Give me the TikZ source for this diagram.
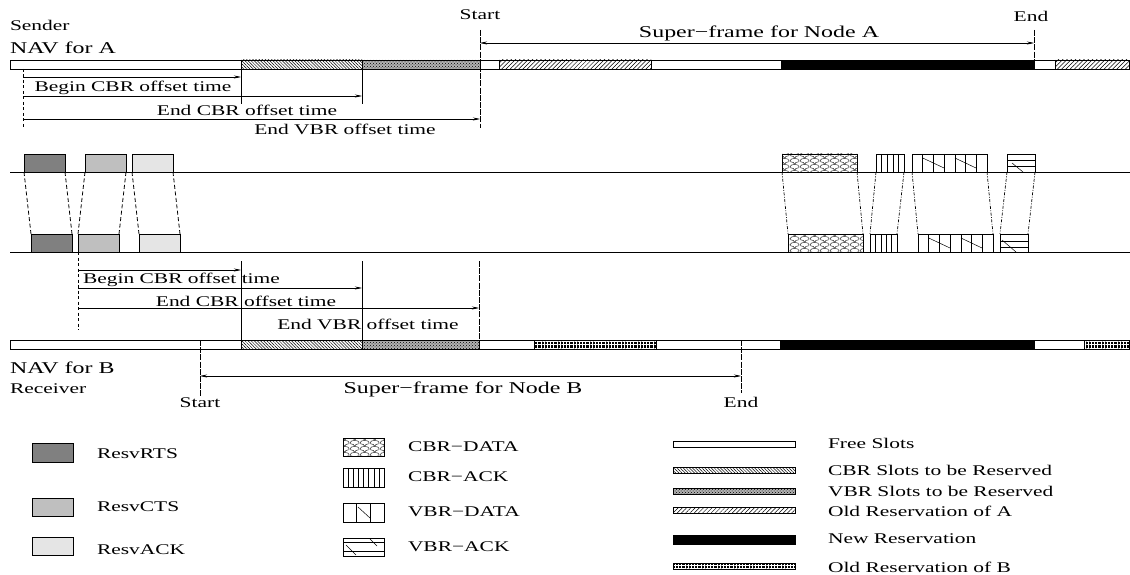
\documentclass[tikz,border=0pt]{standalone}
\usepackage{fontspec}
\setmainfont{Liberation Serif}[FakeStretch=1.45]
\usetikzlibrary{arrows.meta,patterns,patterns.meta,calc}

\pgfdeclarepatternformonly{fishscale}{\pgfpointorigin}{\pgfpoint{10pt}{6pt}}{\pgfpoint{10pt}{6pt}}{%
  \pgfsetlinewidth{0.45pt}%
  \pgfpathmoveto{\pgfpoint{0pt}{0pt}}%
  \pgfpathcurveto{\pgfpoint{0pt}{1.66pt}}{\pgfpoint{2.24pt}{3pt}}{\pgfpoint{5pt}{3pt}}%
  \pgfpathcurveto{\pgfpoint{7.76pt}{3pt}}{\pgfpoint{10pt}{1.66pt}}{\pgfpoint{10pt}{0pt}}%
  \pgfpathmoveto{\pgfpoint{0pt}{6pt}}%
  \pgfpathcurveto{\pgfpoint{2.76pt}{6pt}}{\pgfpoint{5pt}{4.66pt}}{\pgfpoint{5pt}{3pt}}%
  \pgfpathcurveto{\pgfpoint{5pt}{4.66pt}}{\pgfpoint{7.24pt}{6pt}}{\pgfpoint{10pt}{6pt}}%
  \pgfusepath{stroke}%
}

\definecolor{rtsc}{gray}{0.5}
\definecolor{ctsc}{gray}{0.75}
\definecolor{ackc}{gray}{0.9}

\newcommand\colsplit[3]{% node, count, divisor
  \foreach \i in {1,...,#2}{%
    \draw[inner] ($(#1.north west)!\i/#3!(#1.north east)$) -- ($(#1.south west)!\i/#3!(#1.south east)$);}}

\begin{document}
\begin{tikzpicture}[x=1pt,y=-1pt,
  every node/.style={inner sep=0pt,outer sep=0pt},
  lbl/.style={font=\fontsize{14.8}{17}\selectfont},
  big/.style={font=\fontsize{16.5}{19}\selectfont},
  seg/.style={draw,line width=0.7pt},
  free/.style={seg,fill=white},
  cbrslot/.style={seg,pattern={Lines[angle=-45,distance=2.2pt,line width=0.5pt]}},
  vbrslot/.style={seg,preaction={fill=gray!60},pattern=crosshatch dots},
  olda/.style={seg,pattern={Lines[angle=45,distance=3pt,line width=0.5pt]}},
  newres/.style={seg,fill=black},
  oldb/.style={seg,preaction={fill=black},pattern={Hatch[angle=0,distance=3.2pt,line width=0.45pt]},pattern color=white},
  arr/.style={-{Stealth[length=7pt,width=3pt]},line width=0.55pt},
  darr/.style={{Stealth[length=7pt,width=3pt]}-{Stealth[length=7pt,width=3pt]},line width=0.55pt},
  tickline/.style={line width=0.65pt},
  startend/.style={line width=0.65pt,dash pattern=on 6pt off 1.2pt},
  dashv/.style={line width=0.65pt,dash pattern=on 3pt off 2.5pt},
  pkt/.style={draw,line width=0.75pt,anchor=north west,minimum height=18pt},
  inner/.style={line width=0.5pt},
  dd/.style={line width=0.8pt,dash pattern=on 4pt off 2.5pt},
  dashdot/.style={line width=0.7pt,dash pattern=on 3pt off 1.5pt on 0.8pt off 1.5pt},
  medium/.style={line width=0.75pt}
]
\useasboundingbox (0,0) rectangle (1130,575);

% ---------------- NAV for A ----------------
\node[lbl,anchor=west] (sender) at (10,25) {Sender};
\node[big,anchor=west] (navA) at (10,48) {NAV for A};

\draw[free] (10,60) rectangle (241,69);
\draw[cbrslot] (241,60) rectangle (362,69);
\draw[vbrslot] (362,60) rectangle (480,69);
\draw[free] (480,60) rectangle (499,69);
\draw[olda] (499,60) rectangle (651,69);
\draw[free] (651,60) rectangle (781,69);
\draw[newres] (781,60) rectangle (1034,69);
\draw[free] (1034,60) rectangle (1055,69);
\draw[olda] (1055,60) rectangle (1129,69);

\coordinate (Ad1) at (23,69);  \coordinate (Ad2) at (23,128);
\coordinate (Ab1) at (241,69); \coordinate (Ab1e) at (241,104);
\coordinate (Ab2) at (362,69); \coordinate (Ab2e) at (362,104);
\coordinate (AS1) at (480,30); \coordinate (AS2) at (480,128);
\coordinate (AE1) at (1034,30); \coordinate (AE2) at (1034,69);
\draw[dashv] (Ad1) -- (Ad2);
\draw[tickline] (Ab1) -- (Ab1e);
\draw[tickline] (Ab2) -- (Ab2e);
\draw[startend] (AS1) -- (AS2);
\draw[startend] (AE1) -- (AE2);

\coordinate (A1s) at (23,77);  \coordinate (A1e) at (241,77);
\coordinate (A2s) at (23,96);  \coordinate (A2e) at (362,96);
\coordinate (A3s) at (23,119); \coordinate (A3e) at (480,119);
\draw[arr] (A1s) -- (A1e);
\draw[arr] (A2s) -- (A2e);
\draw[arr] (A3s) -- (A3e);
\node[lbl] (tA1) at (133,88) {Begin CBR offset time};
\node[lbl] (tA2) at (247,110) {End CBR offset time};
\node[lbl] (tA3) at (345,129) {End VBR offset time};

\node[lbl] (startA) at (480,15) {Start};
\node[lbl] (endA) at (1031,16) {End};
\coordinate (SFA1) at (480,43); \coordinate (SFA2) at (1034,43);
\draw[darr] (SFA1) -- (SFA2);
\node[big] (sfA) at (759,33) {Super−frame for Node A};

% ---------------- channel lines ----------------
\coordinate (L1a) at (10,172); \coordinate (L1b) at (1130,172);
\coordinate (L2a) at (10,252); \coordinate (L2b) at (1130,252);
\draw[medium] (L1a) -- (L1b);
\draw[medium] (L2a) -- (L2b);

% control packets
\node[pkt,fill=rtsc,minimum width=41pt] (uRTS) at (24,154) {};
\node[pkt,fill=ctsc,minimum width=41pt] (uCTS) at (85,154) {};
\node[pkt,fill=ackc,minimum width=41pt] (uACK) at (132,154) {};
\node[pkt,fill=rtsc,minimum width=41pt] (lRTS) at (31,234) {};
\node[pkt,fill=ctsc,minimum width=41pt] (lCTS) at (78,234) {};
\node[pkt,fill=ackc,minimum width=41pt] (lACK) at (139,234) {};
\foreach \p in {RTS,CTS,ACK}{
  \draw[dd] (u\p.south west) -- (l\p.north west);
  \draw[dd] (u\p.south east) -- (l\p.north east);
}

% data packets
\node[pkt,pattern=fishscale,minimum width=75pt] (uCD) at (782,154) {};
\node[pkt,minimum width=28pt] (uCA) at (876,154) {};
\node[pkt,minimum width=75pt] (uVD) at (912,154) {};
\node[pkt,minimum width=28pt] (uVA) at (1007,154) {};
\node[pkt,pattern=fishscale,minimum width=75pt] (lCD) at (788,234) {};
\node[pkt,minimum width=27pt] (lCA) at (870,234) {};
\node[pkt,minimum width=75pt] (lVD) at (918,234) {};
\node[pkt,minimum width=28pt] (lVA) at (1000,234) {};
\foreach \p in {CD,CA,VD,VA}{
  \draw[dashdot] (u\p.south west) -- (l\p.north west);
  \draw[dashdot] (u\p.south east) -- (l\p.north east);
}
\colsplit{uCA}{4}{5}
\colsplit{lCA}{4}{5}
\colsplit{uVD}{6}{7}
\colsplit{lVD}{6}{7}
\draw[inner] ($(uVD.north west)+(10.7,4)$) -- ($(uVD.north west)+(32,14)$);
\draw[inner] ($(uVD.north west)+(42.9,4)$) -- ($(uVD.north west)+(64,14)$);
\draw[inner] ($(lVD.north west)+(10.7,4)$) -- ($(lVD.north west)+(32,14)$);
\draw[inner] ($(lVD.north west)+(42.9,4)$) -- ($(lVD.north west)+(64,14)$);
\draw[inner] ($(uVA.north west)+(0,6)$) -- ($(uVA.north east)+(0,6)$);
\draw[inner] ($(uVA.north west)+(0,12)$) -- ($(uVA.north east)+(0,12)$);
\draw[inner] ($(uVA.north west)+(5,9)$) -- ($(uVA.north west)+(16,18)$);
\draw[inner] ($(lVA.north west)+(0,7)$) -- ($(lVA.north east)+(0,7)$);
\draw[inner] ($(lVA.north west)+(0,13.5)$) -- ($(lVA.north east)+(0,13.5)$);
\draw[inner] ($(lVA.north west)+(2,6)$) -- ($(lVA.north west)+(16,18)$);

% ---------------- NAV for B ----------------
\coordinate (Bd1) at (78,252);  \coordinate (Bd2) at (78,330);
\coordinate (Bb1) at (241,261); \coordinate (Bb1e) at (241,340);
\coordinate (Bb2) at (362,261); \coordinate (Bb2e) at (362,340);
\coordinate (Bb3) at (479,261); \coordinate (Bb3e) at (479,340);
\draw[dashv] (Bd1) -- (Bd2);
\draw[tickline] (Bb1) -- (Bb1e);
\draw[tickline] (Bb2) -- (Bb2e);
\draw[startend] (Bb3) -- (Bb3e);

\coordinate (B1s) at (78,270); \coordinate (B1e) at (241,270);
\coordinate (B2s) at (78,288); \coordinate (B2e) at (362,288);
\coordinate (B3s) at (78,308); \coordinate (B3e) at (479,308);
\draw[arr] (B1s) -- (B1e);
\draw[arr] (B2s) -- (B2e);
\draw[arr] (B3s) -- (B3e);
\node[lbl,anchor=west] (tB1) at (83,280) {Begin CBR offset time};
\node[lbl] (tB2) at (246,301) {End CBR offset time};
\node[lbl] (tB3) at (368,324) {End VBR offset time};

\draw[free] (10,340) rectangle (241,349);
\draw[cbrslot] (241,340) rectangle (362,349);
\draw[vbrslot] (362,340) rectangle (479,349);
\draw[free] (479,340) rectangle (534,349);
\draw[oldb] (534,340) rectangle (656,349);
\draw[free] (656,340) rectangle (780,349);
\draw[newres] (780,340) rectangle (1034,349);
\draw[free] (1034,340) rectangle (1084,349);
\draw[oldb] (1084,340) rectangle (1129,349);

\coordinate (BS1) at (200,340); \coordinate (BS2) at (200,397);
\coordinate (BE1) at (741,340); \coordinate (BE2) at (741,393);
\draw[startend] (BS1) -- (BS2);
\draw[startend] (BE1) -- (BE2);
\coordinate (SFB1) at (200,376); \coordinate (SFB2) at (741,376);
\draw[darr] (SFB1) -- (SFB2);
\node[big] (sfB) at (463,389) {Super−frame for Node B};
\node[lbl] (startB) at (200,403) {Start};
\node[lbl] (endB) at (741,402) {End};
\node[big,anchor=west] (navB) at (10,368) {NAV for B};
\node[lbl,anchor=west] (receiver) at (10,389) {Receiver};

% ---------------- legend ----------------
\node[pkt,fill=rtsc,minimum width=41pt,minimum height=19pt] (gRTS) at (32,443) {};
\node[pkt,fill=ctsc,minimum width=41pt] (gCTS) at (32,498) {};
\node[pkt,fill=ackc,minimum width=41pt] (gACK) at (32,537) {};
\node[lbl,anchor=west] (tRTS) at (97,454) {ResvRTS};
\node[lbl,anchor=west] (tCTS) at (97,507) {ResvCTS};
\node[lbl,anchor=west] (tACK) at (97,550) {ResvACK};

\node[pkt,pattern=fishscale,minimum width=41pt] (gCD) at (343,438) {};
\node[pkt,minimum width=41pt,minimum height=19pt] (gCA) at (343,468) {};
\node[pkt,minimum width=41pt,minimum height=19pt] (gVD) at (343,503) {};
\node[pkt,minimum width=41pt] (gVA) at (343,538) {};
\colsplit{gCA}{7}{8}
\colsplit{gVD}{2}{3}
\draw[inner] ($(gVD.north west)+(15,4)$) -- ($(gVD.north west)+(27,15)$);
\draw[inner] ($(gVA.north west)+(0,4.5)$) -- ($(gVA.north east)+(0,4.5)$);
\draw[inner] ($(gVA.north west)+(0,13)$) -- ($(gVA.north east)+(0,13)$);
\draw[inner] ($(gVA.north west)+(3,7)$) -- ($(gVA.north west)+(13,17)$);
\draw[inner] ($(gVA.north west)+(27,1)$) -- ($(gVA.north west)+(34,8)$);
\node[lbl,anchor=west] (tCD) at (408,447) {CBR−DATA};
\node[lbl,anchor=west] (tCA) at (408,477) {CBR−ACK};
\node[lbl,anchor=west] (tVD) at (408,512) {VBR−DATA};
\node[lbl,anchor=west] (tVA) at (408,547) {VBR−ACK};

\draw[free] (673,441) rectangle (795,447);
\draw[cbrslot] (673,467) rectangle (795,473);
\draw[vbrslot] (673,488) rectangle (795,494);
\draw[olda] (673,507) rectangle (795,513);
\draw[newres] (673,535) rectangle (795,544);
\draw[oldb] (673,563) rectangle (795,569);
\node[lbl,anchor=west] (tFree) at (828,443) {Free Slots};
\node[lbl,anchor=west] (tCBRs) at (828,470) {CBR Slots to be Reserved};
\node[lbl,anchor=west] (tVBRs) at (828,491) {VBR Slots to be Reserved};
\node[lbl,anchor=west] (tOldA) at (828,511) {Old Reservation of A};
\node[lbl,anchor=west] (tNew) at (828,539) {New Reservation};
\node[lbl,anchor=west] (tOldB) at (828,567) {Old Reservation of B};
\end{tikzpicture}
\end{document}
